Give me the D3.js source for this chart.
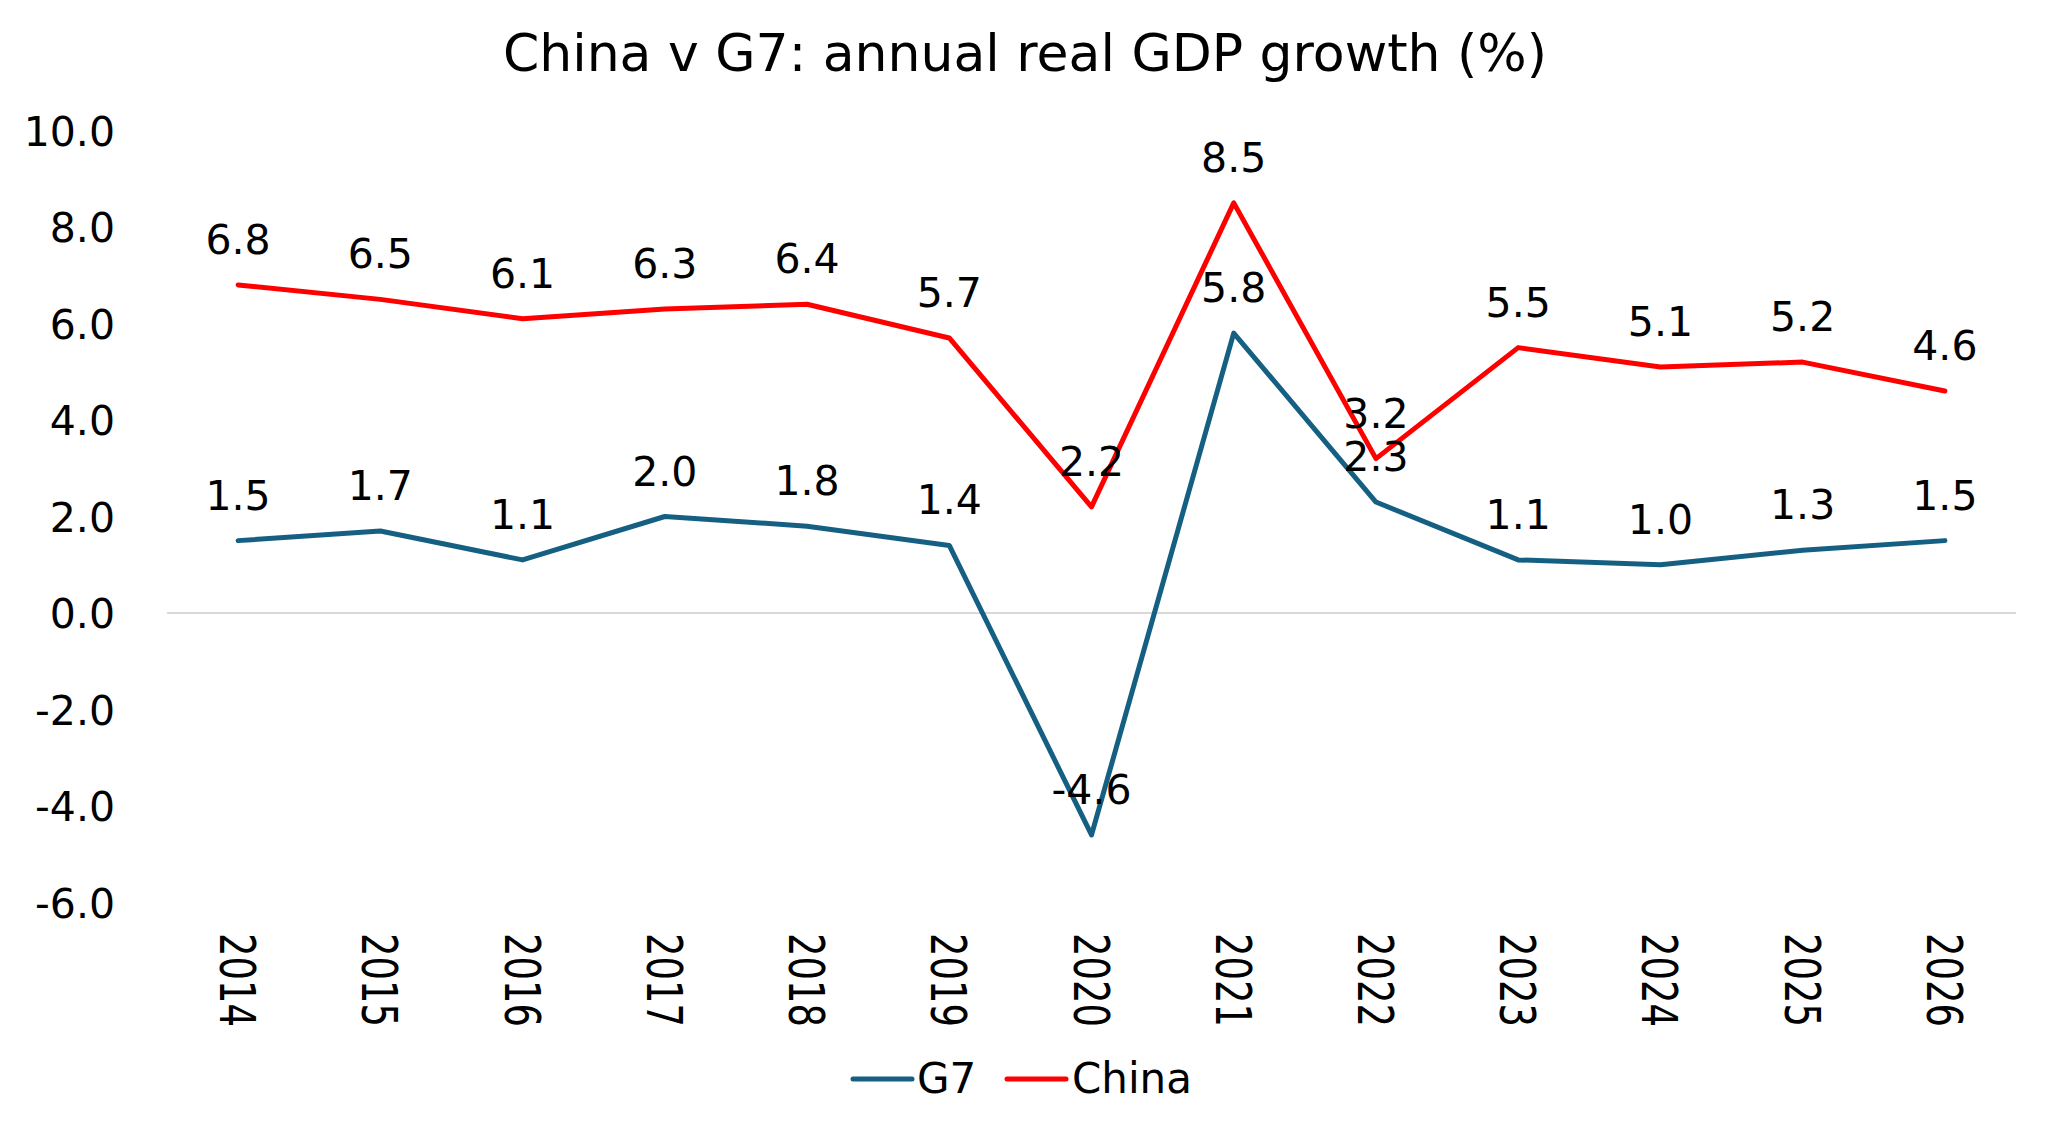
<!DOCTYPE html>
<html>
<head>
<meta charset="utf-8">
<script src="https://cdn.jsdelivr.net/npm/d3@7"></script>
<style>
  html, body { margin: 0; padding: 0; background: #ffffff; }
  svg { display: block; }
  text { font-family: "DejaVu Sans", sans-serif; fill: #000000; }
</style>
</head>
<body>
<svg id="chart" width="2047" height="1130"></svg>
<script>
// ---- data ----
const years = ["2014","2015","2016","2017","2018","2019","2020","2021","2022","2023","2024","2025","2026"];
const g7    = [1.5, 1.7, 1.1, 2.0, 1.8, 1.4, -4.6, 5.8, 2.3, 1.1, 1.0, 1.3, 1.5];
const china = [6.8, 6.5, 6.1, 6.3, 6.4, 5.7, 2.2, 8.5, 3.2, 5.5, 5.1, 5.2, 4.6];
const yTicks = [-6, -4, -2, 0, 2, 4, 6, 8, 10];
const seriesNames = ["G7", "China"];
const seriesColors = ["#156082", "#ff0000"];
const titleText = "China v G7: annual real GDP growth (%)";

// ---- layout ----
const W = 2047, H = 1130;
const plot = { left: 167, right: 2016, top: 130.5, bottom: 902.5 };

const svg = d3.select("#chart");
svg.append("rect").attr("width", W).attr("height", H).attr("fill", "#ffffff");

const x = d3.scaleBand().domain(years).range([plot.left, plot.right]).padding(0);
const y = d3.scaleLinear().domain([-6, 10]).range([plot.bottom, plot.top]);
const cx = d => x(d) + x.bandwidth() / 2;
const fmt = d => d3.format(".1f")(d).replace("\u2212", "-");

// title
svg.append("text")
  .attr("x", 1025).attr("y", 71)
  .attr("text-anchor", "middle")
  .style("font-size", "52px")
  .text(titleText);

// y axis (labels only)
const yAxis = d3.axisLeft(y).tickValues(yTicks).tickFormat(fmt).tickSize(0).tickPadding(52);
const gy = svg.append("g").attr("transform", `translate(${plot.left},0)`).call(yAxis);
gy.select(".domain").remove();
gy.selectAll("text").style("font-size", "41px").attr("dy", "0.36em")
  .style("font-family", "'DejaVu Sans', sans-serif").attr("fill", "#000");

// zero line (category axis)
svg.append("line")
  .attr("x1", plot.left).attr("x2", plot.right)
  .attr("y1", y(0)).attr("y2", y(0))
  .attr("stroke", "#d9d9d9").attr("stroke-width", 2);

// x axis labels (rotated, at bottom)
const xAxis = d3.axisBottom(x).tickSize(0).tickPadding(0);
const gx = svg.append("g").attr("transform", `translate(0,933)`).call(xAxis);
gx.select(".domain").remove();
gx.selectAll("text")
  .attr("x", 0).attr("y", 0).attr("dy", "0.36em")
  .attr("transform", "rotate(90)")
  .attr("text-anchor", "start")
  .attr("textLength", 94).attr("lengthAdjust", "spacingAndGlyphs")
  .style("font-size", "50px")
  .style("font-family", "'DejaVu Sans', sans-serif").attr("fill", "#000");

// lines
const series = [g7, china];
const line = d3.line().x((d, i) => cx(years[i])).y(d => y(d));
series.forEach((vals, si) => {
  svg.append("path")
    .datum(vals)
    .attr("d", line)
    .attr("fill", "none")
    .attr("stroke", seriesColors[si])
    .attr("stroke-width", 5)
    .attr("stroke-linejoin", "round")
    .attr("stroke-linecap", "round");
});

// data labels
series.forEach((vals, si) => {
  svg.append("g").selectAll("text")
    .data(vals)
    .join("text")
    .attr("x", (d, i) => cx(years[i]))
    .attr("y", d => y(d) - 31)
    .attr("text-anchor", "middle")
    .style("font-size", "41px")
    .text(d => fmt(d));
});

// legend
const legendItems = [
  { name: seriesNames[0], color: seriesColors[0], x1: 853, x2: 912, tx: 917 },
  { name: seriesNames[1], color: seriesColors[1], x1: 1007, x2: 1066, tx: 1072 }
];
const lg = svg.append("g");
legendItems.forEach(it => {
  lg.append("line")
    .attr("x1", it.x1).attr("x2", it.x2).attr("y1", 1079).attr("y2", 1079)
    .attr("stroke", it.color).attr("stroke-width", 5).attr("stroke-linecap", "round");
  lg.append("text")
    .attr("x", it.tx).attr("y", 1093)
    .style("font-size", "42px")
    .text(it.name);
});
</script>
</body>
</html>
